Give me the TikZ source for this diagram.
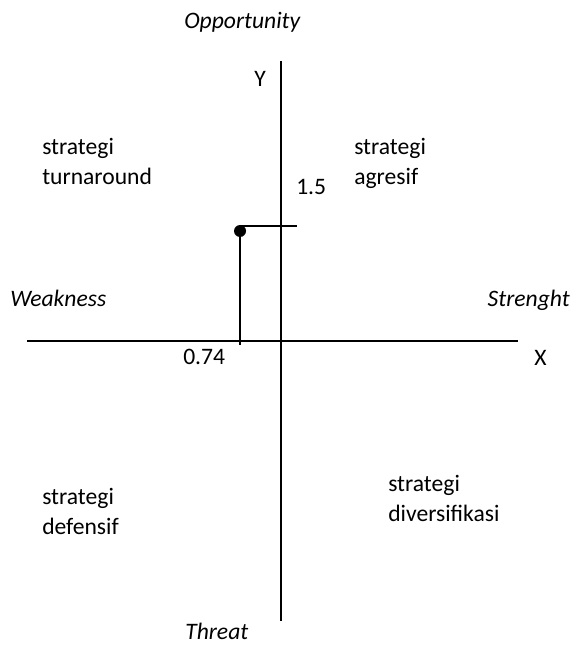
\documentclass[tikz,border=0pt]{standalone}
\usepackage{fontspec}
\setmainfont{Carlito}
\newcommand{\twoline}[2]{\begin{tabular}[t]{@{}l@{}}#1\\#2\end{tabular}}
\begin{document}
\begin{tikzpicture}[x=0.75pt,y=-0.75pt,
  axis/.style={line width=1.5pt},
  lbl/.style={inner sep=0pt,anchor=base west,font=\fontsize{17.7}{22.5}\selectfont},
  ilbl/.style={lbl,font=\fontsize{17.7}{22.5}\selectfont\itshape}]
\useasboundingbox (0,0) rectangle (572,648);
% axes
\coordinate (ytop) at (281,61);
\coordinate (ybot) at (281,621);
\coordinate (xl) at (27,341);
\coordinate (xr) at (518,341);
\draw[axis] (ytop) -- (ybot);
\draw[axis] (xl) -- (xr);
% point
\node[circle,fill=black,inner sep=0pt,minimum size=9pt] (p) at (240,231) {};
\coordinate (pfoot) at (240,345);
\coordinate (hstart) at (240,226);
\coordinate (hend) at (297,226);
\draw[axis] (p.center) -- (pfoot);
\draw[axis] (hstart) -- (hend);
% labels
\node[ilbl] (opp) at (184,29) {Opportunity};
\node[ilbl] (thr) at (185,639) {Threat};
\node[ilbl] (weak) at (10,306) {Weakness};
\node[ilbl,anchor=base east] (str) at (570,306) {Strenght};
\node[lbl] (ylab) at (254,87) {Y};
\node[lbl] (xlab) at (534,365) {X};
\node[lbl] (v15) at (296,195) {1.5};
\node[lbl] (v074) at (183,364) {0.74};
\node[lbl] (tr) at (42,155) {\twoline{strategi}{turnaround}};
\node[lbl] (ag) at (354,155) {\twoline{strategi}{agresif}};
\node[lbl] (df) at (42,504) {\twoline{strategi}{defensif}};
\node[lbl] (dv) at (388,491.7) {\twoline{strategi}{diversifikasi}};
\end{tikzpicture}
\end{document}
